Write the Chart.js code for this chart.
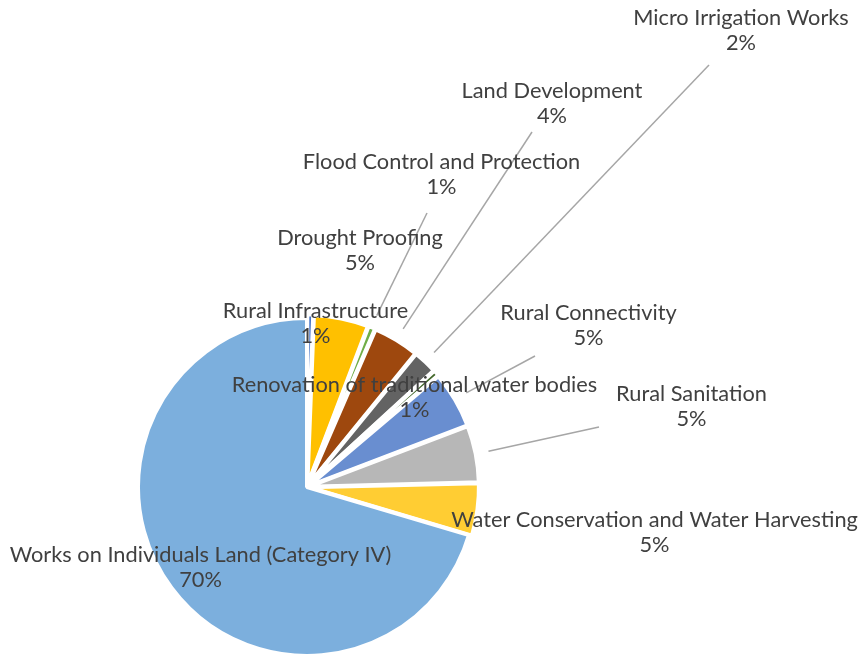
<!DOCTYPE html>
<html>
<head>
<meta charset="utf-8">
<script src="https://cdn.jsdelivr.net/npm/chart.js@4.4.1/dist/chart.umd.min.js"></script>
<style>
html,body{margin:0;padding:0;background:#ffffff;}
#wrap{width:864px;height:656px;position:relative;}
</style>
</head>
<body>
<div id="wrap"><canvas id="c" width="864" height="656"></canvas></div>
<script>
// ---- data ----
const categories = [
  "Rural Infrastructure",
  "Drought Proofing",
  "Flood Control and Protection",
  "Land Development",
  "Micro Irrigation Works",
  "Renovation of traditional water bodies",
  "Rural Connectivity",
  "Rural Sanitation",
  "Water Conservation and Water Harvesting",
  "Works on Individuals Land (Category IV)"
];
const shares = [0.6, 5.2, 0.7, 4.4, 2.3, 0.6, 5.4, 5.4, 5.0, 70.4];

// ---- styles ----
const sliceColors = ["#4472C4","#FFC000","#70AD47","#9E480E","#636363","#43682B","#698ED0","#B7B7B7","#FFCD33","#7CAFDD"];
const sliceOffsets = [7,7,7,7,7,7,7,7,7,0];

// ---- label layout (text centre x, first baseline y, optional leader-line start) ----
const labelX    = [315.5, 360, 441.5, 552, 741, 414.5, 588.5, 691.5, 654.5, 200.5];
const labelY    = [318, 245, 169, 98, 25, 392, 320, 401, 527, 562];
const leaderFrom = [null, null, [427,213], [532,132], [709,65], null, [535,356], [599,427], null, null];
const lineGap = 24.5;
const leaderPastEdge = 9;

const fontFamily = "Lato, 'Open Sans', 'Noto Sans', sans-serif";
function fitFontSize(ctx){
  ctx.font = "20px " + fontFamily;
  const w = ctx.measureText("Water Conservation and Water Harvesting").width;
  return 20 * 407 / w;
}

const labelPlugin = {
  id: 'sliceLabels',
  afterDatasetsDraw(chart){
    const ctx = chart.ctx;
    const meta = chart.getDatasetMeta(0);
    const ds = chart.data.datasets[0];
    const total = ds.data.reduce((a,b)=>a+b,0);
    ctx.save();
    const fs = fitFontSize(ctx);
    meta.data.forEach((arc, i) => {
      const p = arc.getProps(['x','y','startAngle','endAngle','outerRadius'], true);
      const from = leaderFrom[i];
      if (from) {
        const mid = (p.startAngle + p.endAngle) / 2;
        const r = p.outerRadius + (sliceOffsets[i] || 0) + leaderPastEdge;
        ctx.beginPath();
        ctx.moveTo(from[0], from[1]);
        ctx.lineTo(p.x + Math.cos(mid) * r, p.y + Math.sin(mid) * r);
        ctx.strokeStyle = "#A6A6A6";
        ctx.lineWidth = 1.5;
        ctx.stroke();
      }
    });
    ctx.fillStyle = "#404040";
    ctx.textAlign = "center";
    ctx.textBaseline = "alphabetic";
    ctx.font = fs.toFixed(2) + "px " + fontFamily;
    meta.data.forEach((arc, i) => {
      const pct = Math.round(ds.data[i] / total * 100) + "%";
      ctx.fillText(chart.data.labels[i], labelX[i], labelY[i]);
      ctx.fillText(pct, labelX[i], labelY[i] + lineGap);
    });
    ctx.restore();
  }
};

new Chart(document.getElementById('c'), {
  type: 'pie',
  data: {
    labels: categories,
    datasets: [{
      data: shares,
      backgroundColor: sliceColors,
      borderColor: "#FFFFFF",
      borderWidth: 4,
      offset: sliceOffsets,
      radius: 169
    }]
  },
  options: {
    responsive: false,
    animation: false,
    events: [],
    layout: { padding: { left: 138, right: 388, top: 318, bottom: 0 } },
    plugins: { legend: { display: false }, tooltip: { enabled: false }, title: { display: false } }
  },
  plugins: [labelPlugin]
});
</script>
</body>
</html>
